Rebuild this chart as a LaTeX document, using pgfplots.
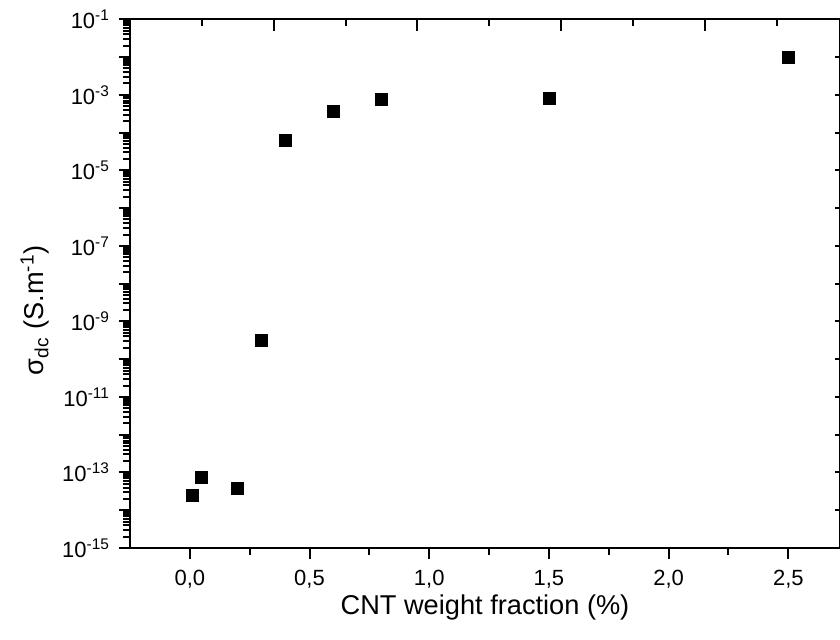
\documentclass[border=0pt]{standalone}
\usepackage{pgfplots}
\pgfplotsset{compat=1.18}
\usepackage{fontspec}
\setmainfont{Liberation Sans}
\begin{document}
\begin{tikzpicture}
\begin{axis}[
  scale only axis, width=355pt, height=264.35pt,
  at={(0,0)}, anchor=south west,
  ymode=log, ymin=1e-15, ymax=1e-1,
  axis line style={line width=1pt, black},
  tick style={line width=1pt, black},
  xmin=-0.25, xmax=2.716,
  xtick={0,0.5,1,1.5,2,2.5},
  minor xtick={0.25,0.75,1.25,1.75,2.25},
  xtick pos=bottom, ytick pos=left,
  tick align=outside,
  major tick length=5.5pt, minor tick length=3.3pt,
  ytick={1e-15,1e-14,1e-13,1e-12,1e-11,1e-10,1e-9,1e-8,1e-7,1e-6,1e-5,1e-4,1e-3,1e-2,1e-1},
  yticklabels={10\textsuperscript{-15},,10\textsuperscript{-13},,10\textsuperscript{-11},,10\textsuperscript{-9},,10\textsuperscript{-7},,10\textsuperscript{-5},,10\textsuperscript{-3},,10\textsuperscript{-1}},
  /pgf/number format/assume math mode=true,
  xticklabel={\pgfmathprintnumber[fixed,fixed zerofill,precision=1,use comma]{\tick}},
  tick label style={font=\fontsize{11}{13}\selectfont},
  xticklabel style={yshift=-2pt},
  yticklabel style={xshift=-1pt},
  xlabel={CNT weight fraction (\%)},
  xlabel style={font=\fontsize{13.6}{16}\selectfont, at={(axis description cs:0.5,0)}, anchor=center, yshift=-29.5pt},
  ylabel={σ\textsubscript{dc} (S.m\textsuperscript{-1})},
  ylabel style={font=\fontsize{13.6}{16}\selectfont, at={(axis description cs:0,0.45)}, anchor=center, rotate=0, yshift=47.5pt},
]
\addplot[only marks, mark=square*, mark size=3pt, black] coordinates {
  (0.01, 2.4e-14)
  (0.05, 7.4e-14)
  (0.2, 3.8e-14)
  (0.3, 3.2e-10)
  (0.4, 6.3e-5)
  (0.6, 3.6e-4)
  (0.8, 7.8e-4)
  (1.5, 8.1e-4)
  (2.5, 1.0e-2)
};
\end{axis}
% top axis ticks (inward)
\begin{axis}[
  scale only axis, width=355pt, height=264.35pt,
  at={(0,0)}, anchor=south west,
  ymin=0, ymax=1,
  axis line style={line width=1pt, black},
  tick style={line width=1pt, black},
  xmin=0, xmax=4.941,
  xtick={1,2,3,4}, minor xtick={0.5,1.5,2.5,3.5,4.5},
  xtick pos=top, xticklabels={},
  ytick=\empty,
  tick align=inside,
  major tick length=5.8pt, minor tick length=3.3pt,
]
\addplot[draw=none] coordinates {(0,0) (1,1)};
\end{axis}
% right axis ticks (inward)
\begin{axis}[
  scale only axis, width=355pt, height=264.35pt,
  at={(0,0)}, anchor=south west,
  ymin=-15, ymax=-1,
  axis line style={line width=1pt, black},
  tick style={line width=1pt, black},
  xmin=0, xmax=1, xtick=\empty,
  ytick={-15,-14,...,-1},
  yticklabels={},
  ytick pos=right, tick align=inside,
  major tick length=2.5pt,
]
\addplot[draw=none] coordinates {(0,-15) (1,-1)};
\end{axis}
\pgfresetboundingbox
\path[use as bounding box] (-65pt,-46pt) rectangle (355pt,274pt);
\end{tikzpicture}
\end{document}
